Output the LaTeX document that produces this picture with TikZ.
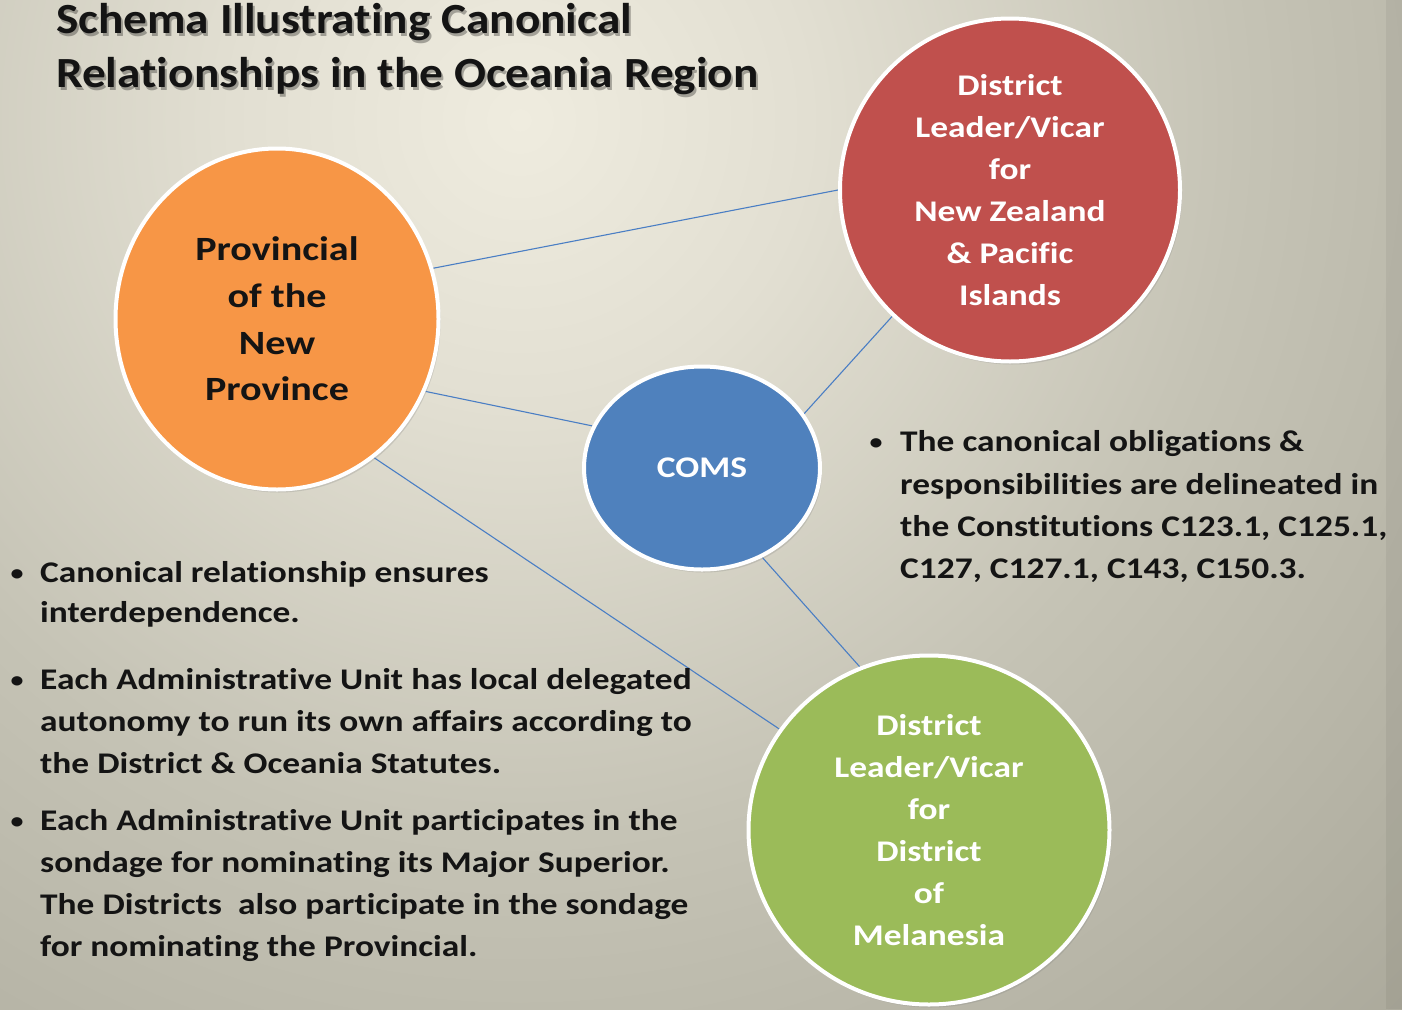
\documentclass[tikz,border=0pt]{standalone}
\usepackage{fontspec}
\setmainfont[FakeStretch=1.18,Ligatures=NoCommon]{Carlito}
\newfontfamily\ttlfont[FakeStretch=1.1,Ligatures=NoCommon]{Carlito}
\usetikzlibrary{shapes.geometric,shadows}
\pgfdeclarelayer{bgl}
\pgfdeclarelayer{lnk}
\pgfsetlayers{bgl,lnk,main}
\definecolor{orgc}{HTML}{F79646}
\definecolor{redc}{HTML}{C0504D}
\definecolor{bluec}{HTML}{4F81BD}
\definecolor{grnc}{HTML}{9BBB59}
\definecolor{linkc}{HTML}{4A7EC4}
\definecolor{bg0}{HTML}{EFECDF}
\definecolor{bg1}{HTML}{E2DFD2}
\definecolor{bg2}{HTML}{C5C3B5}
\definecolor{bg3}{HTML}{B1AFA1}
\definecolor{bg4}{HTML}{9F9D90}
\definecolor{bg5}{HTML}{8E8D81}
\definecolor{txtc}{HTML}{141414}
\pgfdeclareradialshading{bgshade}{\pgfpoint{0bp}{0bp}}{color(0bp)=(bg0); color(8bp)=(bg1); color(20bp)=(bg2); color(32bp)=(bg3); color(42bp)=(bg4); color(50bp)=(bg5)}
\tikzset{
  bub/.style={ellipse, draw=white, line width=4pt, inner sep=0pt, align=center,
    drop shadow={shadow xshift=2pt, shadow yshift=-3pt, opacity=0.25}},
  link/.style={draw=linkc, line width=1.1pt},
  btxt/.style={anchor=base west, inner sep=0pt, text=txtc, font=\bfseries\fontsize{30}{42}\selectfont},
  bul/.style={anchor=base, inner sep=0pt, text=txtc, font=\bfseries\fontsize{22}{30}\selectfont},
  ttl/.style={anchor=base west, inner sep=0pt, font=\ttlfont\bfseries\fontsize{43}{53}\selectfont},
}
\begin{document}
\begin{tikzpicture}[x=1pt,y=-1pt]
\useasboundingbox (0,0) rectangle (1402,1009);
\begin{pgfonlayer}{bgl}
  \clip (0,0) rectangle (1402,1009);
  \shade[shading=bgshade] (-380,-780) rectangle (1420,1020);
  \fill[black,opacity=0.05] (1386,0) rectangle (1402,1009);
\end{pgfonlayer}

% title with soft shadow
\node[ttl, text=black, opacity=0.3] (t1s) at (58,36) {Schema Illustrating Canonical};
\node[ttl, text=black, opacity=0.3] (t2s) at (58,90) {Relationships in the Oceania Region};
\node[ttl, text=txtc] (t1) at (56,33) {Schema Illustrating Canonical};
\node[ttl, text=txtc] (t2) at (56,87) {Relationships in the Oceania Region};

% circles
\node[bub, fill=orgc, minimum width=323pt, minimum height=341pt, text=txtc,
  font=\bfseries\fontsize{34}{46.7}\selectfont] (org) at (277,319)
  {Provincial\\of the\\New\\Province};
\node[bub, fill=redc, minimum width=340pt, minimum height=343pt, text=white,
  font=\bfseries\fontsize{30}{42}\selectfont] (red) at (1010,190)
  {District\\Leader/Vicar\\for\\New Zealand\\\& Pacific\\Islands};
\node[bub, fill=bluec, minimum width=236pt, minimum height=203pt, text=white,
  font=\bfseries\fontsize{30}{42}\selectfont] (coms) at (702,468) {COMS};
\node[bub, fill=grnc, minimum width=361pt, minimum height=349pt, text=white,
  font=\bfseries\fontsize{30}{42}\selectfont] (grn) at (929,830)
  {District\\Leader/Vicar\\for\\District\\of\\Melanesia};

% connectors
\begin{pgfonlayer}{lnk}
  \draw[link] (org.18) -- (red.180);
  \draw[link] (org.-26) -- (coms.159);
  \draw[link] (org.-55) -- (grn.146);
  \draw[link] (red.227) -- (coms.28);
  \draw[link] (coms.-56) -- (grn.113);
\end{pgfonlayer}

% right bullet
\node[bul] (rb) at (876,449) {•};
\node[btxt] (r1) at (900,451) {The canonical obligations \&};
\node[btxt] (r2) at (900,494) {responsibilities are delineated in};
\node[btxt] (r3) at (900,536) {the Constitutions C123.1, C125.1,};
\node[btxt] (r4) at (900,578) {C127, C127.1, C143, C150.3.};

% left bullets
\node[bul] (lb1) at (17,580) {•};
\node[btxt] (a1) at (40,582) {Canonical relationship ensures};
\node[btxt] (a2) at (40,622) {interdependence.};

\node[bul] (lb2) at (17,687) {•};
\node[btxt] (b1) at (40,689) {Each Administrative Unit has local delegated};
\node[btxt] (b2) at (40,731) {autonomy to run its own affairs according to};
\node[btxt] (b3) at (40,773) {the District \& Oceania Statutes.};

\node[bul] (lb3) at (17,828) {•};
\node[btxt] (c1) at (40,830) {Each Administrative Unit participates in the};
\node[btxt] (c2) at (40,872) {sondage for nominating its Major Superior.};
\node[btxt] (c3) at (40,914) {The Districts\ \ also participate in the sondage};
\node[btxt] (c4) at (40,956) {for nominating the Provincial.};
\end{tikzpicture}
\end{document}
